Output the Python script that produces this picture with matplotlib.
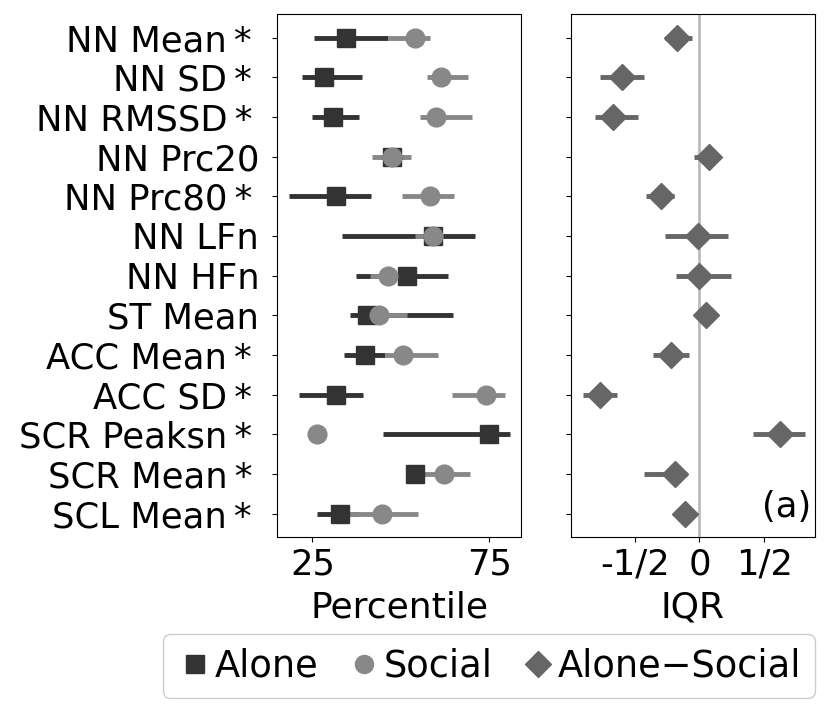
"""
Percentile of features alone vs social, plus Alone-Social IQR difference.
"""

import matplotlib
matplotlib.use("Agg")
import matplotlib.pyplot as plt
from matplotlib.lines import Line2D

FIG_PATH = "out.png"

features = ["NN Mean", "NN SD", "NN RMSSD", "NN Prc20", "NN Prc80", "NN LFn", "NN HFn",
            "ST Mean", "ACC Mean", "ACC SD", "SCR Peaksn", "SCR Mean", "SCL Mean"]
significant = [True, True, True, False, True, False, False,
               False, True, True, True, True, True]

# percentile medians and CI bounds
alone_mid = [34.4, 28.2, 30.9, 47.4, 31.8, 59.1, 51.8, 40.5, 40.0, 31.6, 75.0, 53.9, 32.7]
alone_lo = [25.5, 22.2, 25.0, 44.0, 18.4, 33.3, 37.2, 35.5, 34.0, 21.3, 45.0, 53.5, 26.3]
alone_hi = [46.3, 39.1, 38.1, 51.0, 41.6, 70.8, 63.2, 64.8, 45.4, 39.3, 80.9, 54.3, 38.0]

social_mid = [53.9, 61.2, 60.0, 47.4, 58.1, 59.1, 46.3, 43.8, 50.6, 73.9, 26.3, 62.3, 44.7]
social_lo = [46.3, 57.4, 55.5, 41.8, 50.2, 54.1, 41.4, 38.8, 45.4, 64.4, 26.0, 56.2, 35.3]
social_hi = [58.1, 68.9, 70.0, 52.9, 65.1, 62.0, 52.9, 51.8, 60.4, 79.4, 26.6, 69.4, 54.8]

# Alone - Social difference in IQR units
diff_mid = [-0.172, -0.599, -0.668, 0.072, -0.293, -0.010, 0.0,
            0.051, -0.216, -0.769, 0.622, -0.190, -0.108]
diff_lo = [-0.262, -0.769, -0.807, -0.041, -0.409, -0.262, -0.180,
           0.0, -0.357, -0.900, 0.411, -0.424, -0.160]
diff_hi = [-0.056, -0.429, -0.476, 0.130, -0.193, 0.218, 0.241,
           0.100, -0.077, -0.635, 0.812, -0.093, -0.060]

C_ALONE = "#333333"
C_SOCIAL = "#888888"
C_DIFF = "#666666"
MS = 13.5
LW = 3.5
FS = 25.5


def main() -> None:
    plt.rcParams["font.family"] = "DejaVu Sans"
    fig = plt.figure(figsize=(8.31, 7.13), dpi=100)
    ax1 = fig.add_axes([0.3333, 0.2464, 0.294, 0.734])
    ax2 = fig.add_axes([0.6871, 0.2464, 0.2936, 0.734])

    y = list(range(len(features)))

    ax1.hlines(y, alone_lo, alone_hi, color=C_ALONE, lw=LW, zorder=2)
    ax1.hlines(y, social_lo, social_hi, color=C_SOCIAL, lw=LW, zorder=3)
    ax1.plot(alone_mid, y, "s", color=C_ALONE, ms=MS, ls="none", zorder=4)
    ax1.plot(social_mid, y, "o", color=C_SOCIAL, ms=MS, ls="none", zorder=5)
    ax1.set_xlim(15, 84)
    ax1.set_xticks([25, 75])
    ax1.set_xlabel("Percentile", fontsize=26, labelpad=7)

    # significant features get a trailing asterisk
    labels = [f + "\u2009*\u2009" if s else f for f, s in zip(features, significant)]
    for ax in (ax1, ax2):
        ax.set_ylim(len(features) - 0.4, -0.6)
        ax.set_yticks(y)
        ax.tick_params(labelsize=FS)
        ax.tick_params(axis="y", pad=9.3)
    ax1.set_yticklabels(labels)
    ax2.set_yticklabels([])

    ax2.axvline(0, color="#bbbbbb", lw=2, zorder=1)
    ax2.hlines(y, diff_lo, diff_hi, color=C_DIFF, lw=LW, zorder=2)
    ax2.plot(diff_mid, y, "D", color=C_DIFF, ms=MS, ls="none", zorder=3)
    ax2.set_xlim(-0.99, 0.89)
    ax2.set_xticks([-0.5, 0, 0.5])
    ax2.set_xticklabels(["-1/2", "0", "1/2"])
    ax2.set_xlabel("IQR", fontsize=26, labelpad=7)
    ax2.text(0.985, 0.025, "(a)", transform=ax2.transAxes, ha="right", va="bottom", fontsize=FS)

    handles = [
        Line2D([], [], marker="s", color=C_ALONE, ls="none", ms=13),
        Line2D([], [], marker="o", color=C_SOCIAL, ls="none", ms=13),
        Line2D([], [], marker="D", color=C_DIFF, ls="none", ms=13),
    ]
    fig.legend(handles, ["Alone", "Social", "Alone\u2212Social"], loc="center",
               bbox_to_anchor=(0.5884, 0.0659), ncol=3, fontsize=26.5,
               handletextpad=0.05, columnspacing=0.72, handlelength=1.0,
               borderpad=0.36, framealpha=1.0)

    fig.savefig(FIG_PATH, dpi=100)
    plt.close(fig)


if __name__ == "__main__":
    main()
